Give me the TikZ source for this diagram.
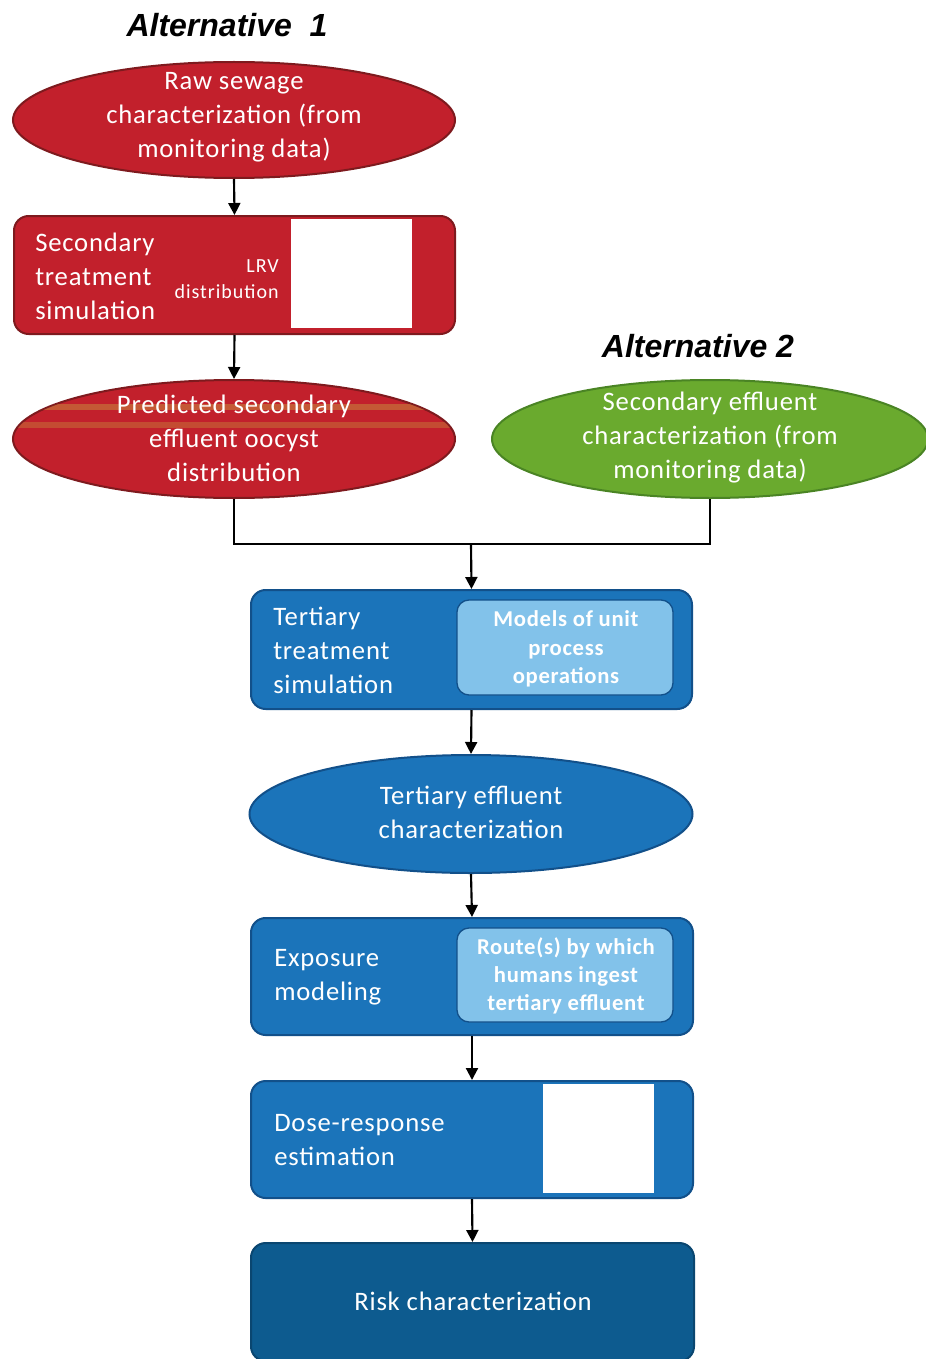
\documentclass[tikz,border=0pt]{standalone}
\usepackage{fontspec}
\setmainfont{Carlito}
\newfontfamily\altfont{Liberation Sans}
\usetikzlibrary{shapes.geometric,arrows.meta}
\definecolor{rd}{HTML}{C2202C}
\definecolor{rdb}{HTML}{7E1A1E}
\definecolor{stripe}{HTML}{C8A040}
\definecolor{gr}{HTML}{6AAA2E}
\definecolor{grb}{HTML}{4A8424}
\definecolor{bl}{HTML}{1B74BA}
\definecolor{blb}{HTML}{12508A}
\definecolor{lb}{HTML}{82C2EA}
\definecolor{dk}{HTML}{0D5B8F}
\definecolor{dkb}{HTML}{0A4670}
\begin{document}
\begin{tikzpicture}[x=0.75pt,y=-0.75pt,
 ell/.style={ellipse, draw, line width=1.5pt, inner sep=0},
 rbox/.style={rectangle, rounded corners=11pt, draw, line width=1.5pt, inner sep=0},
 ibox/.style={rectangle, rounded corners=9pt, draw=blb, line width=1pt, fill=lb, inner sep=0},
 img/.style={rectangle, fill=white, inner sep=0},
 arr/.style={line width=1.6pt, -{Triangle[width=9pt,length=9pt]}},
 lnk/.style={line width=1.6pt},
 wt/.style={text=white, font=\addfontfeatures{LetterSpace=3}\fontsize{20}{25.5}\selectfont, inner sep=0},
 it/.style={text=white, font=\bfseries\addfontfeatures{LetterSpace=3}\fontsize{17}{21.5}\selectfont, inner sep=0, align=center},
 alt/.style={font=\altfont\bfseries\itshape\fontsize{24}{28}\selectfont, inner sep=0},
 stripeline/.style={stripe, line width=4pt, opacity=.45},
 ]
\useasboundingbox (0,0) rectangle (925,1359);
% titles
\node[alt] (alt1) at (227,25) {Alternative\ \ 1};
\node[alt] (alt2) at (698,346) {Alternative 2};
% raw sewage
\node[ell, fill=rd, draw=rdb, minimum width={442*0.75pt}, minimum height={116*0.75pt}] (raw) at (234,120) {};
\node[wt, align=center] (rawt) at (234,117) {Raw sewage\\characterization (from\\monitoring data)};
% secondary treatment
\node[rbox, fill=rd, draw=rdb, minimum width={441*0.75pt}, minimum height={118*0.75pt}] (sec) at (234.5,275) {};
\node[img, minimum width={121*0.75pt}, minimum height={109*0.75pt}] (lrvimg) at (351.5,273.5) {};
\node[wt, align=left, anchor=west] (sect) at (35,276) {Secondary\\treatment\\simulation};
\node[text=white, font=\addfontfeatures{LetterSpace=5}\fontsize{15}{19}\selectfont, align=right, anchor=east, inner sep=0] (lrv) at (279,279) {LRV\\distribution};
% predicted secondary effluent
\node[ell, fill=rd, draw=rdb, minimum width={442*0.75pt}, minimum height={118*0.75pt}] (pred) at (234,439) {};
\begin{scope}
  \clip (234,439) ellipse [x radius=220, y radius=58];
  \draw[stripeline] (0,407) -- (480,407);
  \draw[stripeline, opacity=.35] (0,425) -- (480,425);
\end{scope}
\node[wt, align=center] (predt) at (234,438.5) {Predicted secondary\\effluent oocyst\\distribution};
% secondary effluent (alt 2)
\node[ell, fill=gr, draw=grb, minimum width={436*0.75pt}, minimum height={118*0.75pt}] (green) at (710,439) {};
\node[wt, align=center] (greent) at (710,437.5) {Secondary effluent\\characterization (from\\monitoring data)};
% join
\coordinate (join) at (471,544);
% tertiary treatment
\node[rbox, fill=bl, draw=blb, minimum width={441*0.75pt}, minimum height={119*0.75pt}] (tert) at (471.5,649.5) {};
\node[ibox, minimum width={216*0.75pt}, minimum height={95*0.75pt}] (models) at (565,647.5) {};
\node[it] (modelst) at (566,649) {Models of unit\\process\\operations};
\node[wt, align=left, anchor=west] (tertt) at (273,650) {Tertiary\\treatment\\simulation};
% tertiary effluent
\node[ell, fill=bl, draw=blb, minimum width={443*0.75pt}, minimum height={118*0.75pt}] (teff) at (471,814) {};
\node[wt, align=center] (tefft) at (471,812) {Tertiary effluent\\characterization};
% exposure
\node[rbox, fill=bl, draw=blb, minimum width={442*0.75pt}, minimum height={117*0.75pt}] (expo) at (472,976.5) {};
\node[ibox, minimum width={216*0.75pt}, minimum height={94*0.75pt}] (route) at (565,975) {};
\node[it, font=\bfseries\addfontfeatures{LetterSpace=3}\fontsize{17}{21}\selectfont] (routet) at (566,976) {Route(s) by which\\humans ingest\\tertiary effluent};
\node[wt, align=left, anchor=west] (expot) at (274,977) {Exposure\\modeling};
% dose response
\node[rbox, fill=bl, draw=blb, minimum width={442*0.75pt}, minimum height={117*0.75pt}] (dose) at (472,1139.5) {};
\node[img, minimum width={111*0.75pt}, minimum height={109*0.75pt}] (doseimg) at (598.5,1138.5) {};
\node[wt, align=left, anchor=west] (doset) at (274,1140) {Dose-response\\estimation};
% risk
\node[rbox, fill=dk, draw=dkb, minimum width={443*0.75pt}, minimum height={118*0.75pt}] (risk) at (472.5,1302) {};
\node[wt] (riskt) at (473,1301) {Risk characterization};
% connectors
\draw[arr] (raw.south) -- (sec.north);
\draw[arr] (sec.south) -- (pred.north);
\draw[lnk] (pred.south) |- (join) -| (green.south);
\draw[arr] (join) -- (tert.north);
\draw[arr] (tert.south) -- (teff.north);
\draw[arr] (teff.south) -- (expo.north);
\draw[arr] (expo.south) -- (dose.north);
\draw[arr] (dose.south) -- (risk.north);
\end{tikzpicture}
\end{document}
